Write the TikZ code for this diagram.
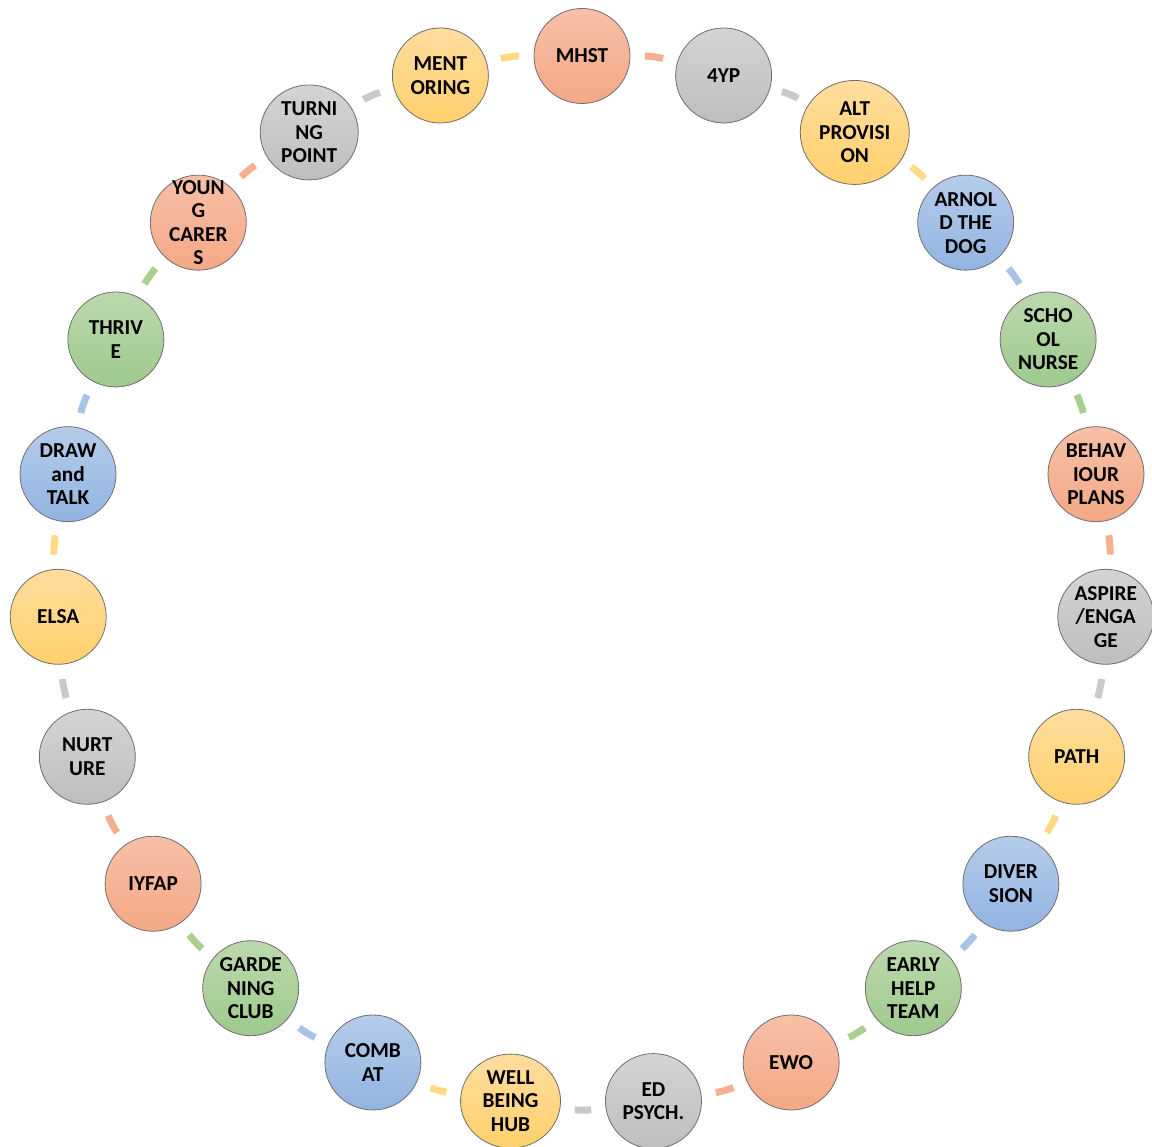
\documentclass[tikz,border=0pt]{standalone}
\usepackage{fontspec}
\setmainfont{Carlito}
\usetikzlibrary{shapes.geometric}
\definecolor{edgegray}{HTML}{6E6E6E}
\definecolor{orT}{HTML}{F7C0A6}
\definecolor{orB}{HTML}{F4A886}
\definecolor{grT}{HTML}{D4D4D4}
\definecolor{grB}{HTML}{BEBEBE}
\definecolor{yeT}{HTML}{FFDD9E}
\definecolor{yeB}{HTML}{FFD06C}
\definecolor{blT}{HTML}{B5CCEA}
\definecolor{blB}{HTML}{92B4E1}
\definecolor{gnT}{HTML}{BCD9AD}
\definecolor{gnB}{HTML}{9EC98D}
\definecolor{orC}{HTML}{F5B08F}
\definecolor{grC}{HTML}{C9C9C9}
\definecolor{yeC}{HTML}{FFD985}
\definecolor{blC}{HTML}{A8C3E8}
\definecolor{gnC}{HTML}{A9D08E}
\begin{document}
\begin{tikzpicture}[x=1pt,y=1pt,
  cyc/.style={ellipse, draw=edgegray, line width=0.8pt, minimum width=96pt, minimum height=95pt,
    inner sep=0pt, align=center, font=\fontsize{21.3}{23.5}\selectfont\bfseries, text=black},
  orn/.style={cyc, top color=orT, bottom color=orB},
  grn/.style={cyc, top color=grT, bottom color=grB},
  yen/.style={cyc, top color=yeT, bottom color=yeB},
  bln/.style={cyc, top color=blT, bottom color=blB},
  gnn/.style={cyc, top color=gnT, bottom color=gnB},
  conn/.style={line width=7pt, shorten >=14.5pt, shorten <=14.5pt},
  bigconn/.style={line width=7pt, shorten >=12pt, shorten <=12pt},
  arcb/.style={bend left=7.83}]
\useasboundingbox (0,0) rectangle (1152,1147);
\begin{scope}[shift={(582,566)}]
\node[orn] (n0) at (90:525) {MHST};
\node[grn] (n1) at (74.348:525) {4YP};
\node[yen, minimum width=109pt, minimum height=104pt] (n2) at (58.696:525) {ALT\\PROVISI\\ON};
\node[bln] (n3) at (43.043:525) {ARNOL\\D THE\\DOG};
\node[gnn] (n4) at (27.391:525) {SCHO\\OL\\NURSE};
\node[orn] (n5) at (11.739:525) {BEHAV\\IOUR\\PLANS};
\node[grn] (n6) at (-3.913:525) {ASPIRE\\/ENGA\\GE};
\node[yen] (n7) at (-19.565:525) {PATH};
\node[bln] (n8) at (-35.217:525) {DIVER\\SION};
\node[gnn] (n9) at (-50.870:525) {EARLY\\HELP\\TEAM};
\node[orn] (n10) at (-66.522:525) {EWO};
\node[grn] (n11) at (-82.174:525) {ED\\PSYCH.};
\node[yen, minimum width=100pt, minimum height=94pt] (n12) at (-97.826:525) {WELL\\BEING\\HUB};
\node[bln] (n13) at (-113.478:525) {COMB\\AT};
\node[gnn] (n14) at (-129.130:525) {GARDE\\NING\\CLUB};
\node[orn] (n15) at (-144.783:525) {IYFAP};
\node[grn] (n16) at (-160.435:525) {NURT\\URE};
\node[yen] (n17) at (-176.087:525) {ELSA};
\node[bln] (n18) at (-191.739:525) {DRAW\\and\\TALK};
\node[gnn] (n19) at (-207.391:525) {THRIV\\E};
\node[orn, inner ysep=-16pt] (n20) at (-223.043:525) {YOUN\\G\\CARER\\S};
\node[grn, minimum width=98pt] (n21) at (-238.696:525) {TURNI\\NG\\POINT};
\node[yen] (n22) at (-254.348:525) {MENT\\ORING};
\end{scope}
\draw[conn, draw=orC] (n0) to[arcb] (n1);
\draw[bigconn, draw=grC] (n1) to[arcb] (n2);
\draw[bigconn, draw=yeC] (n2) to[arcb] (n3);
\draw[conn, draw=blC] (n3) to[arcb] (n4);
\draw[conn, draw=gnC] (n4) to[arcb] (n5);
\draw[conn, draw=orC] (n5) to[arcb] (n6);
\draw[conn, draw=grC] (n6) to[arcb] (n7);
\draw[conn, draw=yeC] (n7) to[arcb] (n8);
\draw[conn, draw=blC] (n8) to[arcb] (n9);
\draw[conn, draw=gnC] (n9) to[arcb] (n10);
\draw[conn, draw=orC] (n10) to[arcb] (n11);
\draw[conn, draw=grC] (n11) to[arcb] (n12);
\draw[conn, draw=yeC] (n12) to[arcb] (n13);
\draw[conn, draw=blC] (n13) to[arcb] (n14);
\draw[conn, draw=gnC] (n14) to[arcb] (n15);
\draw[conn, draw=orC] (n15) to[arcb] (n16);
\draw[conn, draw=grC] (n16) to[arcb] (n17);
\draw[conn, draw=yeC] (n17) to[arcb] (n18);
\draw[conn, draw=blC] (n18) to[arcb] (n19);
\draw[conn, draw=gnC] (n19) to[arcb] (n20);
\draw[conn, draw=orC] (n20) to[arcb] (n21);
\draw[conn, draw=grC] (n21) to[arcb] (n22);
\draw[conn, draw=yeC] (n22) to[arcb] (n0);
\end{tikzpicture}
\end{document}
